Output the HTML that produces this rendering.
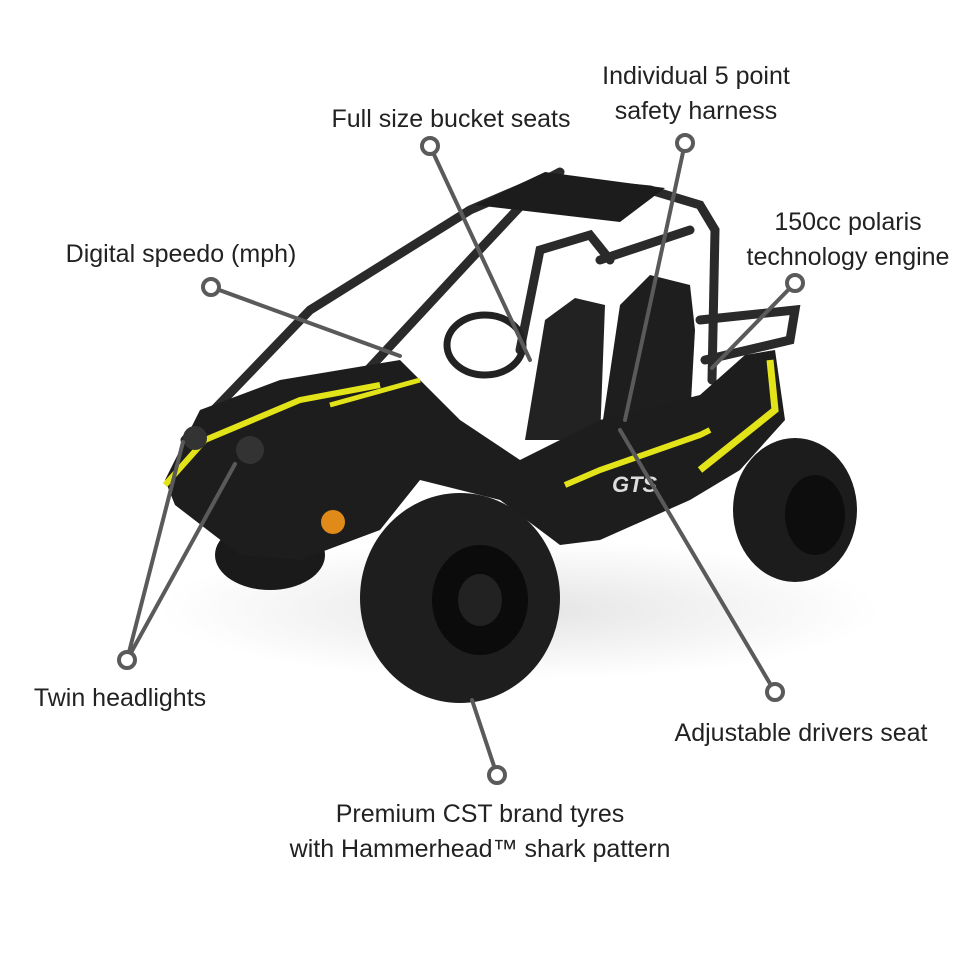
<!DOCTYPE html>
<html><head><meta charset="utf-8"><style>
html,body{margin:0;padding:0;background:#fff;}
.w{position:relative;width:960px;height:960px;overflow:hidden;background:#fff;}
svg{position:absolute;left:0;top:0;}
text{font-family:"Liberation Sans",sans-serif;font-size:25px;fill:#222;}
</style></head><body><div class="w">
<svg width="960" height="960" viewBox="0 0 960 960">
<defs>
<radialGradient id="sh" cx="0.5" cy="0.5" r="0.5"><stop offset="0" stop-color="#e4e4e4"/><stop offset="1" stop-color="#fff"/></radialGradient>
</defs>
<ellipse cx="520" cy="610" rx="360" ry="70" fill="url(#sh)"/>
<ellipse cx="270" cy="555" rx="55" ry="35" fill="#1a1a1a"/>
<g stroke="#2a2a2a" stroke-width="9" fill="none" stroke-linecap="round">
<path d="M185 440 L310 310 L470 210 L540 180"/>
<path d="M340 400 L470 260 L545 180 L560 172"/>
<path d="M545 180 L650 190 L700 205 L715 230 L712 380"/>
<path d="M520 350 L540 250 L590 235 L610 260"/>
<path d="M600 260 L690 230"/>
<path d="M700 320 L795 310 L790 340 L705 360"/>
</g>
<path d="M475 205 L545 172 L665 188 L620 222 Z" fill="#1c1c1c"/>
<path d="M525 440 L545 320 L575 298 L605 305 L600 440 Z" fill="#222"/>
<path d="M600 440 L620 305 L650 275 L690 285 L695 330 L690 420 Z" fill="#1e1e1e"/>
<path d="M165 480 L200 410 L280 380 L400 360 L460 420 L520 460 L600 420 L700 395 L745 355 L775 350 L785 420 L740 470 L690 500 L600 540 L560 545 L500 500 L420 480 L380 530 L300 560 L240 555 L175 505 Z" fill="#1d1d1d"/>
<path d="M165 485 L205 440 L300 400 L380 385" stroke="#e3e31a" stroke-width="6" fill="none"/>
<path d="M770 360 L775 410 L700 470" stroke="#e3e31a" stroke-width="7" fill="none"/>
<path d="M565 485 L600 470 L700 435 L710 430" stroke="#e3e31a" stroke-width="6" fill="none"/>
<path d="M330 405 L420 380" stroke="#e3e31a" stroke-width="5" fill="none"/>
<text x="612" y="492" style="font-size:22px;font-weight:bold;fill:#ddd;font-style:italic">GTS</text>
<circle cx="333" cy="522" r="12" fill="#e08a1a"/>
<circle cx="195" cy="438" r="12" fill="#333"/>
<circle cx="250" cy="450" r="14" fill="#333"/>
<ellipse cx="485" cy="345" rx="38" ry="30" stroke="#222" stroke-width="7" fill="none"/>
<ellipse cx="795" cy="510" rx="62" ry="72" fill="#1c1c1c"/>
<ellipse cx="815" cy="515" rx="30" ry="40" fill="#0d0d0d"/>
<ellipse cx="460" cy="598" rx="100" ry="105" fill="#1e1e1e"/>
<ellipse cx="480" cy="600" rx="48" ry="55" fill="#0b0b0b"/>
<ellipse cx="480" cy="600" rx="22" ry="26" fill="#222"/>
<g stroke="#5a5a5a" stroke-width="4" stroke-linecap="round">
<line x1="430" y1="146" x2="530" y2="360"/>
<line x1="685" y1="143" x2="625" y2="420"/>
<line x1="795" y1="283" x2="712" y2="368"/>
<line x1="211" y1="287" x2="400" y2="356"/>
<line x1="127" y1="660" x2="183" y2="442"/>
<line x1="127" y1="660" x2="235" y2="464"/>
<line x1="775" y1="692" x2="620" y2="430"/>
<line x1="497" y1="775" x2="472" y2="700"/>
</g>
<g fill="#fff" stroke="#5a5a5a" stroke-width="4">
<circle cx="430" cy="146" r="8"/>
<circle cx="685" cy="143" r="8"/>
<circle cx="795" cy="283" r="8"/>
<circle cx="211" cy="287" r="8"/>
<circle cx="127" cy="660" r="8"/>
<circle cx="775" cy="692" r="8"/>
<circle cx="497" cy="775" r="8"/>
</g>
<g text-anchor="middle">
<text x="451" y="127">Full size bucket seats</text>
<text x="696" y="84">Individual 5 point</text>
<text x="696" y="119">safety harness</text>
<text x="848" y="230">150cc polaris</text>
<text x="848" y="265">technology engine</text>
<text x="181" y="262">Digital speedo (mph)</text>
<text x="120" y="706">Twin headlights</text>
<text x="801" y="741">Adjustable drivers seat</text>
<text x="480" y="822">Premium CST brand tyres</text>
<text x="480" y="857">with Hammerhead™ shark pattern</text>
</g>
</svg>
</div></body></html>
